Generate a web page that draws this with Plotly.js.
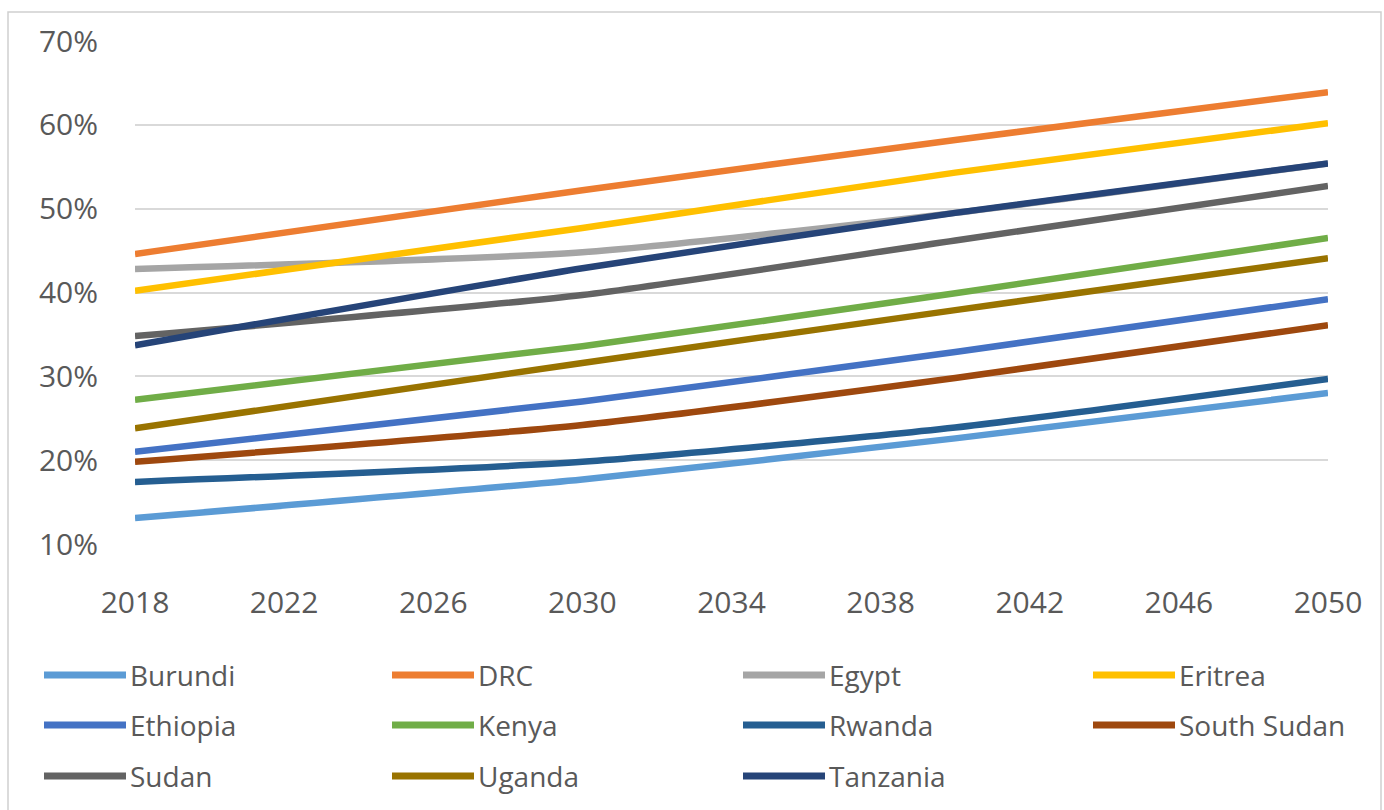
<!DOCTYPE html>
<html>
<head>
<meta charset="utf-8">
<script src="https://cdn.plot.ly/plotly-3.0.1.min.js"></script>
<style>html,body{margin:0;padding:0;background:#fff;}#chart{width:1384px;height:810px;}</style>
</head>
<body>
<div id="chart"></div>
<script>
var years = [2018, 2030, 2040, 2050];
var countries = ["Burundi", "DRC", "Egypt", "Eritrea", "Ethiopia", "Kenya", "Rwanda", "South Sudan", "Sudan", "Uganda", "Tanzania"];
var burundi    = [13.1, 17.7, 22.6, 28.0];
var drc        = [44.6, 52.2, 58.2, 63.9];
var egypt      = [42.8, 44.8, 49.5, 55.4];
var eritrea    = [40.2, 47.7, 54.3, 60.2];
var ethiopia   = [21.0, 27.0, 32.9, 39.2];
var kenya      = [27.2, 33.6, 39.9, 46.5];
var rwanda     = [17.4, 19.8, 23.9, 29.7];
var southSudan = [19.8, 24.2, 29.8, 36.1];
var sudan      = [34.8, 39.7, 46.2, 52.7];
var uganda     = [23.8, 31.6, 37.9, 44.1];
var tanzania   = [33.7, 42.9, 49.5, 55.4];
var xTicks = [2018, 2022, 2026, 2030, 2034, 2038, 2042, 2046, 2050];
var yTicks = [10, 20, 30, 40, 50, 60, 70];

var series = [burundi, drc, egypt, eritrea, ethiopia, kenya, rwanda, southSudan, sudan, uganda, tanzania];
var colors = ["#5B9BD5", "#ED7D31", "#A5A5A5", "#FFC000", "#4472C4", "#70AD47", "#255E91", "#9E480E", "#636363", "#997300", "#264478"];

var W = 1384, H = 810, L = 135, R = 1328, T = 41, B = 544;
function px(x) { return (x - L) / (R - L); }
function py(y) { return (B - y) / (B - T); }

var traces = series.map(function (s, i) {
  return {
    x: years, y: s, name: countries[i], type: "scatter", mode: "lines",
    line: { color: colors[i], width: 6.5, shape: "spline", smoothing: 0.6 },
    showlegend: false, hoverinfo: "x+y+name"
  };
});

var font = "'Open Sans', 'Noto Sans', sans-serif";
var textColor = "#595959";
var shapes = [{
  type: "rect", xref: "paper", yref: "paper",
  x0: px(8), x1: px(1381), y0: py(812), y1: py(12),
  line: { color: "#D0D0D0", width: 1.5 }, layer: "below"
}];
var annotations = [];
var colX = [44, 392, 743, 1093];
var rowY = [675, 725, 776];
countries.forEach(function (c, i) {
  var col = i % 4, row = Math.floor(i / 4);
  var x0 = colX[col], yy = rowY[row];
  shapes.push({
    type: "line", xref: "paper", yref: "paper",
    x0: px(x0), x1: px(x0 + 82), y0: py(yy), y1: py(yy),
    line: { color: colors[i], width: 7 }
  });
  annotations.push({
    xref: "paper", yref: "paper", x: px(x0 + 84), y: py(yy),
    xanchor: "left", yanchor: "middle", text: c, showarrow: false,
    font: { family: font, size: 28, color: textColor }
  });
});

var layout = {
  width: W, height: H,
  margin: { l: L, r: W - R, t: T, b: H - B, pad: 0 },
  paper_bgcolor: "#ffffff", plot_bgcolor: "#ffffff",
  showlegend: false,
  font: { family: font, color: textColor },
  xaxis: {
    range: [2018, 2050], tickvals: xTicks, ticktext: xTicks.map(String),
    showgrid: false, zeroline: false, showline: false, ticks: "",
    ticklabelstandoff: 38,
    tickfont: { family: font, size: 30, color: textColor }
  },
  yaxis: {
    range: [10, 70], tickvals: yTicks, ticktext: yTicks.map(function (v) { return v + "%"; }),
    showgrid: true, gridcolor: "#D9D9D9", gridwidth: 2, zeroline: false, showline: false, ticks: "",
    ticklabelstandoff: 36,
    tickfont: { family: font, size: 30, color: textColor }
  },
  shapes: shapes,
  annotations: annotations
};

Plotly.newPlot("chart", traces, layout, { displayModeBar: false, staticPlot: true });
</script>
</body>
</html>
